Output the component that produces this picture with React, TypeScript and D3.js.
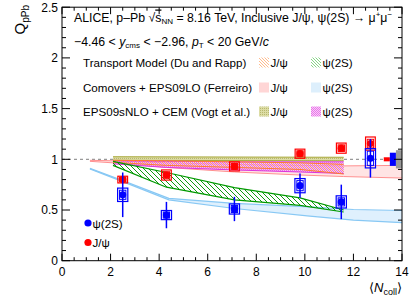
import React from "react";
import * as d3 from "d3";

// ---------- data ----------
const ncoll = [2.5, 4.3, 7.1, 9.8, 11.5, 12.7];
const psi2S = [0.65, 0.45, 0.51, 0.74, 0.58, 1.01];
const psi2SStat = [0.22, 0.13, 0.12, 0.12, 0.17, 0.19];
const psi2SSysOuter = [0.066, 0.045, 0.05, 0.07, 0.06, 0.095];
const psi2SSysInner = [0.045, 0.03, 0.035, 0.05, 0.04, 0.07];
const jpsi = [0.8, 0.845, 0.93, 1.055, 1.11, 1.155];
const jpsiStat = [0.015, 0.015, 0.015, 0.02, 0.02, 0.025];
const jpsiSys = [0.033, 0.05, 0.045, 0.045, 0.05, 0.065];

// models
const transJpsiX = [2.1, 4.3, 7.1, 9.8, 11.6];
const transJpsiHi = [0.99, 0.985, 0.975, 0.965, 0.95];
const transJpsiLo = [0.97, 0.94, 0.92, 0.9, 0.855];
const transPsiX = [2.1, 4.3, 7.1, 9.8, 11.6];
const transPsiHi = [0.98, 0.87, 0.72, 0.62, 0.5];
const transPsiLo = [0.94, 0.725, 0.6, 0.545, 0.48];
const comoJpsiX = [1.15, 2.1, 4.3, 7.1, 9.8, 11.6, 14];
const comoJpsiHi = [0.99, 0.985, 0.965, 0.95, 0.94, 0.935, 0.94];
const comoJpsiLo = [0.98, 0.965, 0.92, 0.875, 0.845, 0.83, 0.815];
const comoPsiX = [1.15, 2.5, 4.4, 7.1, 10.2, 12, 14];
const comoPsiHi = [0.91, 0.79, 0.615, 0.565, 0.53, 0.505, 0.495];
const comoPsiLo = [0.905, 0.78, 0.6, 0.515, 0.44, 0.4, 0.375];
const epsJpsiX = [2.1, 11.6];
const epsJpsiHi = [1.025, 1.02];
const epsJpsiLo = [0.99, 0.985];
const epsPsiX = [2.1, 4.3, 7.1, 9.8, 11.6];
const epsPsiHi = [0.985, 0.98, 0.975, 0.975, 0.975];
const epsPsiLo = [0.955, 0.92, 0.895, 0.875, 0.86];

// global uncertainties (at right edge)
const globalX = [13.25, 13.5, 13.75, 14];
const globalHalf = [0.02, 0.065, 0.09];

const xTicks = [0, 2, 4, 6, 8, 10, 12, 14];
const yTicks = [0, 0.5, 1, 1.5, 2, 2.5];

const W = 415, H = 300;
const L = 62, R = 402, T = 7.2, B = 260.7;
const FONT = "'Liberation Sans', Arial, Helvetica, sans-serif";

export default function App() {
  const x = d3.scaleLinear().domain([0, 14]).range([L, R]);
  const y = d3.scaleLinear().domain([0, 2.5]).range([B, T]);

  const band = (xs: number[], lo: number[], hi: number[]) =>
    d3.area<number>().x((_, i) => x(xs[i])).y0((_, i) => y(lo[i])).y1((_, i) => y(hi[i]))(xs) || "";
  const line = (xs: number[], v: number[]) =>
    d3.line<number>().x((_, i) => x(xs[i])).y((_, i) => y(v[i]))(xs) || "";

  const xMinor = d3.range(0, 14.01, 0.5);
  const yMinor = d3.range(0, 2.501, 0.1);

  const models = [
    { xs: comoPsiX, lo: comoPsiLo, hi: comoPsiHi, fill: "#dff0fd", stroke: "#88c8f4", sw: 1.2 },
    { xs: comoJpsiX, lo: comoJpsiLo, hi: comoJpsiHi, fill: "rgba(255,205,205,0.55)", stroke: "#ff9090", sw: 1 },
    { xs: epsJpsiX, lo: epsJpsiLo, hi: epsJpsiHi, fill: "url(#olive)", stroke: "#a8a838", sw: 1 },
    { xs: epsPsiX, lo: epsPsiLo, hi: epsPsiHi, fill: "url(#magenta)", stroke: "#dd33dd", sw: 1 },
    { xs: transJpsiX, lo: transJpsiLo, hi: transJpsiHi, fill: "url(#hOrange)", stroke: "#ff7a30", sw: 1 },
    { xs: transPsiX, lo: transPsiLo, hi: transPsiHi, fill: "url(#hGreen)", stroke: "#009900", sw: 1.2 },
  ];

  const legendRows = [
    { label: "Transport Model (Du and Rapp)", y: 66.5, f1: "url(#hOrangeL)", f2: "url(#hGreenL)" },
    { label: "Comovers + EPS09LO (Ferreiro)", y: 91.5, f1: "#ffd6d6", f2: "#ddeffc" },
    { label: "EPS09sNLO + CEM (Vogt et al.)", y: 115.5, f1: "url(#olive)", f2: "url(#magenta)" },
  ];

  const LF = 11.6;

  return (
    <svg width={W} height={H} style={{ position: "absolute", left: 0, top: 0, background: "#fff" }} fontFamily={FONT}>
      <defs>
        <pattern id="hOrange" width="4" height="4" patternUnits="userSpaceOnUse">
          <path d="M-1,-1 L5,5 M-1,3 L1,5 M3,-1 L5,1" stroke="#ff9a60" strokeWidth="0.8" />
        </pattern>
        <pattern id="hGreen" width="5" height="5" patternUnits="userSpaceOnUse">
          <path d="M-1,-1 L6,6 M-1,4 L1,6 M4,-1 L6,1" stroke="#119911" strokeWidth="1" />
        </pattern>
        <pattern id="hOrangeL" width="3" height="3" patternUnits="userSpaceOnUse">
          <path d="M-1,-1 L4,4 M-1,2 L1,4 M2,-1 L4,1" stroke="#ffaa70" strokeWidth="0.8" />
        </pattern>
        <pattern id="hGreenL" width="3" height="3" patternUnits="userSpaceOnUse">
          <path d="M-1,-1 L4,4 M-1,2 L1,4 M2,-1 L4,1" stroke="#66cc66" strokeWidth="0.8" />
        </pattern>
        <pattern id="olive" width="2" height="2" patternUnits="userSpaceOnUse">
          <rect width="2" height="2" fill="#dcdca4" />
          <rect width="1" height="1" fill="#b8b870" />
        </pattern>
        <pattern id="magenta" width="2" height="2" patternUnits="userSpaceOnUse">
          <rect width="2" height="2" fill="rgba(245,170,245,0.6)" />
          <rect width="1" height="1" fill="rgba(225,90,225,0.75)" />
          <rect x="1" y="1" width="1" height="1" fill="rgba(225,90,225,0.75)" />
        </pattern>
      </defs>

      {/* y=1 dashed */}
      <line x1={L} x2={R} y1={y(1)} y2={y(1)} stroke="#999" strokeWidth={1.3} strokeDasharray="3,3" />

      {/* model bands */}
      {models.map((m, i) => (
        <g key={i}>
          <path d={band(m.xs, m.lo, m.hi)} fill={m.fill} stroke="none" />
          <path d={line(m.xs, m.hi)} fill="none" stroke={m.stroke} strokeWidth={m.sw} />
          <path d={line(m.xs, m.lo)} fill="none" stroke={m.stroke} strokeWidth={m.sw} />
        </g>
      ))}

      {/* global uncertainty boxes */}
      {globalHalf.map((h, i) => (
        <rect key={i} x={x(globalX[i])} width={x(globalX[i + 1]) - x(globalX[i])}
          y={y(1 + h)} height={y(1 - h) - y(1 + h)}
          fill={["#ff0000", "#0000ff", "#999999"][i]} />
      ))}

      {/* J/psi data */}
      {ncoll.map((n, i) => (
        <g key={"j" + i}>
          <rect x={x(n - 0.2)} width={x(n + 0.2) - x(n - 0.2)} y={y(jpsi[i] + jpsiSys[i])}
            height={y(jpsi[i] - jpsiSys[i]) - y(jpsi[i] + jpsiSys[i])} fill="none" stroke="#ff0000" strokeWidth={1.2} />
          <rect x={x(n - 0.13)} width={x(n + 0.13) - x(n - 0.13)} y={y(jpsi[i] + jpsiSys[i] * 0.65)}
            height={y(jpsi[i] - jpsiSys[i] * 0.65) - y(jpsi[i] + jpsiSys[i] * 0.65)} fill="none" stroke="#ff0000" strokeWidth={1} />
          <line x1={x(n)} x2={x(n)} y1={y(jpsi[i] + jpsiStat[i])} y2={y(jpsi[i] - jpsiStat[i])} stroke="#ff0000" strokeWidth={1.5} />
          <circle cx={x(n)} cy={y(jpsi[i])} r={3.6} fill="#ff0000" />
        </g>
      ))}

      {/* psi(2S) data */}
      {ncoll.map((n, i) => (
        <g key={"p" + i}>
          <rect x={x(n - 0.21)} width={x(n + 0.21) - x(n - 0.21)} y={y(psi2S[i] + psi2SSysOuter[i])}
            height={y(psi2S[i] - psi2SSysOuter[i]) - y(psi2S[i] + psi2SSysOuter[i])} fill="none" stroke="#0000ff" strokeWidth={1.2} />
          <rect x={x(n - 0.13)} width={x(n + 0.13) - x(n - 0.13)} y={y(psi2S[i] + psi2SSysInner[i])}
            height={y(psi2S[i] - psi2SSysInner[i]) - y(psi2S[i] + psi2SSysInner[i])} fill="none" stroke="#0000ff" strokeWidth={1} />
          <line x1={x(n)} x2={x(n)} y1={y(psi2S[i] + psi2SStat[i])} y2={y(psi2S[i] - psi2SStat[i])} stroke="#0000ff" strokeWidth={1.5} />
          <circle cx={x(n)} cy={y(psi2S[i])} r={3.6} fill="#0000ff" />
        </g>
      ))}

      {/* frame and ticks */}
      <rect x={L} y={T} width={R - L} height={B - T} fill="none" stroke="#000" strokeWidth={1} />
      {xMinor.map((v, i) => {
        const major = Math.abs(v % 2) < 1e-6;
        const len = major ? 7 : 3.5;
        return (
          <g key={"xt" + i}>
            <line x1={x(v)} x2={x(v)} y1={B} y2={B - len} stroke="#000" />
            <line x1={x(v)} x2={x(v)} y1={T} y2={T + len} stroke="#000" />
          </g>
        );
      })}
      {yMinor.map((v, i) => {
        const major = Math.abs((v * 10) % 5) < 1e-6;
        const len = major ? 8 : 4;
        return (
          <g key={"yt" + i}>
            <line x1={L} x2={L + len} y1={y(v)} y2={y(v)} stroke="#000" />
            <line x1={R} x2={R - len} y1={y(v)} y2={y(v)} stroke="#000" />
          </g>
        );
      })}
      {xTicks.map((v) => (
        <text key={"xl" + v} x={x(v)} y={B + 15} fontSize={12} textAnchor="middle">{v}</text>
      ))}
      {yTicks.map((v) => (
        <text key={"yl" + v} x={L - 4} y={y(v) + 4.3} fontSize={12} textAnchor="end">{v}</text>
      ))}

      {/* axis titles */}
      <text x={R} y={292} fontSize={13} textAnchor="end">
        ⟨<tspan fontStyle="italic">N</tspan><tspan fontSize={9} dy={3}>coll</tspan><tspan dy={-3}>⟩</tspan>
      </text>
      <text transform="translate(25,5) rotate(-90)" fontSize={15} textAnchor="end">
        Q<tspan fontSize={10} dy={3.5}>pPb</tspan>
      </text>

      {/* header text */}
      <text x={74} y={21.5} fontSize={12.3}>
        ALICE, p–Pb √<tspan textDecoration="overline">s</tspan><tspan fontSize={8} dy={2.5}>NN</tspan>
        <tspan dy={-2.5}> = 8.16 TeV, Inclusive J/ψ, ψ(2S) → μ</tspan><tspan fontSize={8} dy={-4.5}>+</tspan>
        <tspan dy={4.5}>μ</tspan><tspan fontSize={8} dy={-4.5}>−</tspan>
      </text>
      <text x={74} y={45.5} fontSize={12.3}>
        −4.46 &lt; <tspan fontStyle="italic">y</tspan><tspan fontSize={8} dy={2.5}>cms</tspan>
        <tspan dy={-2.5}> &lt; −2.96, </tspan><tspan fontStyle="italic">p</tspan><tspan fontSize={8} dy={2.5}>T</tspan>
        <tspan dy={-2.5}> &lt; 20 GeV/</tspan><tspan fontStyle="italic">c</tspan>
      </text>

      {/* model legend */}
      {legendRows.map((r, i) => (
        <g key={"lg" + i}>
          <text x={83} y={r.y} fontSize={LF}>{r.label}</text>
          <rect x={259} y={r.y - 9} width={10} height={10} fill={r.f1} />
          <text x={270.5} y={r.y} fontSize={LF}>J/ψ</text>
          <rect x={311} y={r.y - 9} width={10} height={10} fill={r.f2} />
          <text x={322.5} y={r.y} fontSize={LF}>ψ(2S)</text>
        </g>
      ))}

      {/* data legend */}
      <circle cx={88} cy={223} r={3.6} fill="#0000ff" />
      <text x={92.5} y={227.5} fontSize={LF}>ψ(2S)</text>
      <circle cx={88} cy={242.5} r={3.6} fill="#ff0000" />
      <text x={92.5} y={247} fontSize={LF}>J/ψ</text>
    </svg>
  );
}
